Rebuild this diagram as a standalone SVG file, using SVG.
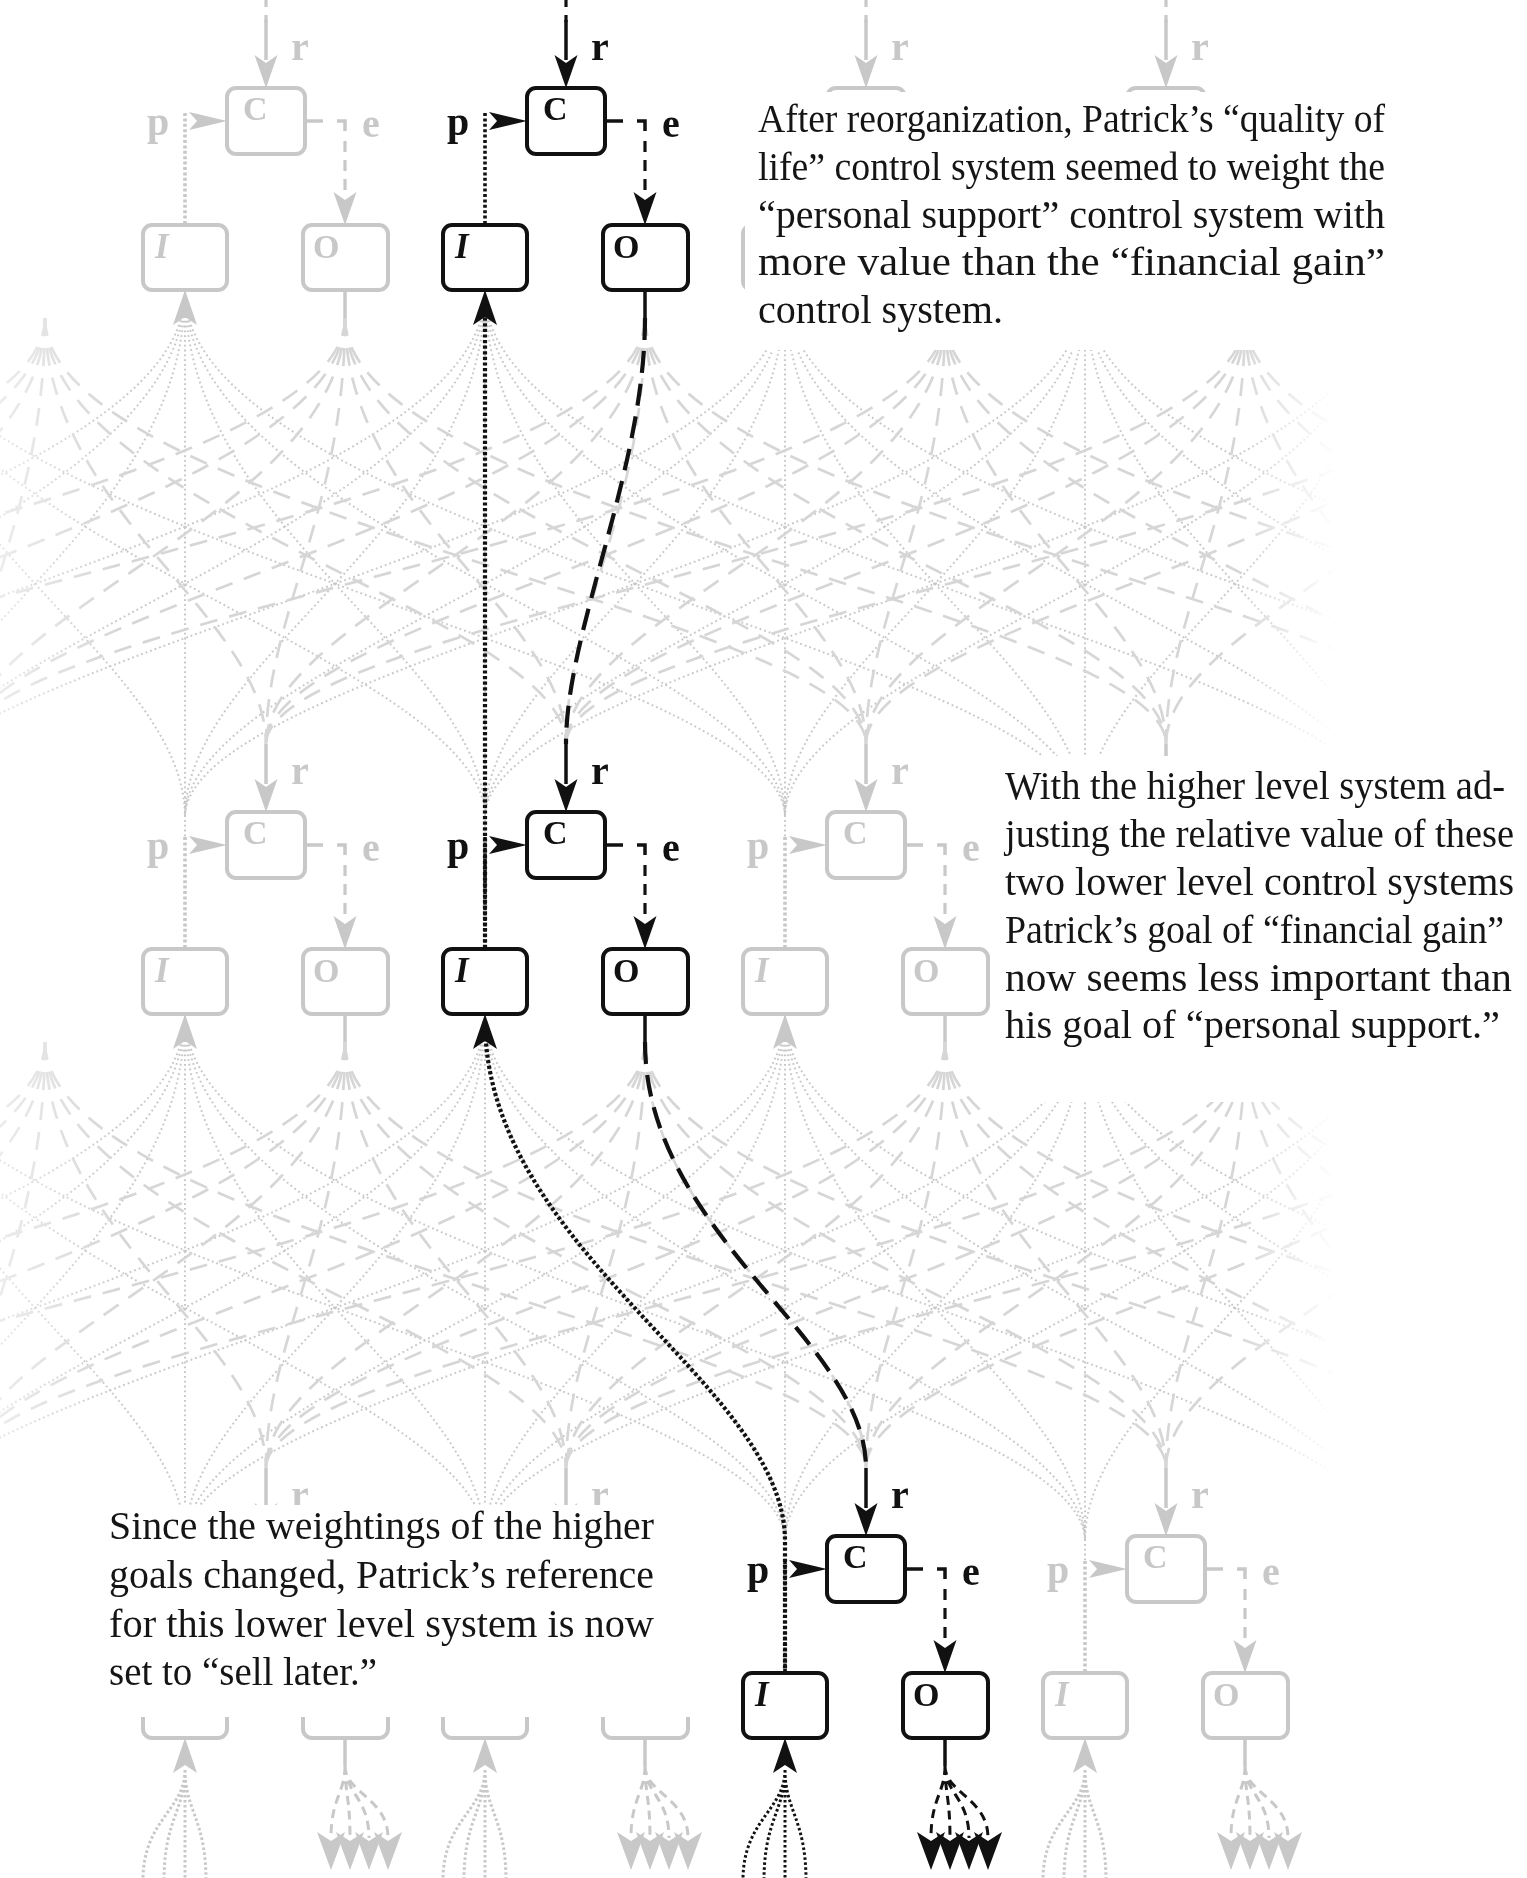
<svg xmlns="http://www.w3.org/2000/svg" width="1527" height="1878" viewBox="0 0 1527 1878">
<style>
.bx{fill:#fff;stroke:currentColor;stroke-width:4}
.sl{fill:none;stroke:currentColor;stroke-width:3.5}
.dt{fill:none;stroke:currentColor;stroke-width:3.6;stroke-dasharray:3 2.4}
.ed{fill:none;stroke:currentColor;stroke-width:3.2;stroke-dasharray:11 8}
.lb{font-family:"Liberation Serif",serif;font-weight:bold;font-size:40px}
.lc{font-family:"Liberation Serif",serif;font-weight:bold;font-size:34px}
.li{font-family:"Liberation Serif",serif;font-style:italic;font-weight:bold;font-size:35px}
.lo{font-family:"Liberation Serif",serif;font-weight:bold;font-size:34px}
.fa{color:#c8c8c8}
.bk{color:#111}
.fdot{fill:none;stroke:#c8c8c8;stroke-width:2;stroke-dasharray:1.8 3}
.fdash{fill:none;stroke:#d6d6d6;stroke-width:2.7;stroke-dasharray:18 12}
.kdot{fill:none;stroke:#111;stroke-width:4.2;stroke-dasharray:3.2 2.4}
.kdash{fill:none;stroke:#111;stroke-width:4.2;stroke-dasharray:22 11}
.bfd{fill:none;stroke:currentColor;stroke-width:3;stroke-dasharray:2.6 2.4}
.bfs{fill:none;stroke:currentColor;stroke-width:3;stroke-dasharray:9 6}
.tx{font-family:"Liberation Serif",serif;font-size:39px;fill:#151515}
</style>
<defs>
<path id="ad" d="M0 0 L-11.5 -33 L0 -25 L11.5 -33 Z"/>
<path id="au" d="M0 0 L-12 35 L0 27 L12 35 Z"/>
<path id="ar" d="M0 0 L-38 -9 L-30 0 L-38 9 Z"/>
<path id="adb" d="M0 0 L-14 -38 L0 -29 L14 -38 Z"/>
<linearGradient id="fg" gradientUnits="userSpaceOnUse" x1="0" y1="0" x2="1527" y2="0">
<stop offset="0" stop-color="#777"/>
<stop offset="0.08" stop-color="#fff"/>
<stop offset="0.81" stop-color="#fff"/>
<stop offset="0.875" stop-color="#000"/>
</linearGradient>
<mask id="fade" maskUnits="userSpaceOnUse" x="0" y="0" width="1527" height="1878">
<rect x="0" y="0" width="1527" height="1878" fill="url(#fg)"/>
</mask>
<g id="sys" fill="currentColor">
<rect class="bx" x="227" y="88" width="78" height="66" rx="9"/>
<rect class="bx" x="143" y="225" width="84" height="65" rx="9"/>
<rect class="bx" x="303" y="225" width="85" height="65" rx="9"/>
<text class="lc" x="243" y="120">C</text>
<text class="li" x="155" y="258">I</text>
<text class="lo" x="313" y="258">O</text>
<line class="sl" x1="266" y1="20" x2="266" y2="60"/>
<use href="#ad" x="266" y="88"/>
<text class="lb" x="291" y="60">r</text>
<text class="lb" x="147" y="135">p</text>
<line class="dt" x1="185" y1="113" x2="185" y2="225"/>
<use href="#ar" x="227" y="121"/>
<line class="sl" x1="305" y1="121" x2="323" y2="121"/>
<path class="sl" d="M337 121 H345 V131"/>
<line class="ed" x1="345" y1="141" x2="345" y2="195"/>
<use href="#ad" x="345" y="225"/>
<text class="lb" x="362" y="137">e</text>
<use href="#au" x="185" y="290"/>
<line class="sl" x1="345" y1="290" x2="345" y2="318"/>
</g>
<g id="pf" class="fdot">
<path d="M185 292 C185 528 -715 659 -715 817"/>
<path d="M185 292 C185 528 -415 659 -415 817"/>
<path d="M185 292 C185 528 -115 659 -115 817"/>
<path d="M185 292 V840"/>
<path d="M185 292 C185 528 485 659 485 817"/>
<path d="M185 292 C185 528 785 659 785 817"/>
<path d="M185 292 C185 528 1085 659 1085 817"/>
</g>
<g id="df" class="fdash">
<path d="M345 318 C345 510 -634 616 -634 744"/>
<path d="M345 318 C345 510 -334 616 -334 744"/>
<path d="M345 318 C345 510 -34 616 -34 744"/>
<path d="M345 318 C345 510 266 616 266 744"/>
<path d="M345 318 C345 510 566 616 566 744"/>
<path d="M345 318 C345 510 866 616 866 744"/>
<path d="M345 318 C345 510 1166 616 1166 744"/>
</g>
<g id="bf" fill="currentColor">
<path class="bfd" d="M185 322 C185 362 143 372 143 432 M185 322 C185 362 164 372 164 432 M185 322 V432 M185 322 C185 362 206 372 206 432"/>
<path class="bfs" d="M345 318 C345 345 331 350 331 390 M345 318 C345 345 350 350 350 390 M345 318 C345 345 369 350 369 390 M345 318 C345 345 388 350 388 390"/>
<use href="#adb" x="331" y="422"/>
<use href="#adb" x="350" y="422"/>
<use href="#adb" x="369" y="422"/>
<use href="#adb" x="388" y="422"/>
</g>
</defs>

<g id="connectors-faint">
<g mask="url(#fade)">
<use href="#pf" x="-300" y="0"/><use href="#pf" x="0" y="0"/><use href="#pf" x="300" y="0"/>
<use href="#pf" x="600" y="0"/><use href="#pf" x="900" y="0"/><use href="#pf" x="1200" y="0"/>
<use href="#pf" x="-300" y="724"/><use href="#pf" x="0" y="724"/><use href="#pf" x="300" y="724"/>
<use href="#pf" x="600" y="724"/><use href="#pf" x="900" y="724"/><use href="#pf" x="1200" y="724"/>
<use href="#df" x="-300" y="0"/><use href="#df" x="0" y="0"/><use href="#df" x="300" y="0"/>
<use href="#df" x="600" y="0"/><use href="#df" x="900" y="0"/><use href="#df" x="1200" y="0"/>
<use href="#df" x="-300" y="724"/><use href="#df" x="0" y="724"/><use href="#df" x="300" y="724"/>
<use href="#df" x="600" y="724"/><use href="#df" x="900" y="724"/><use href="#df" x="1200" y="724"/>
</g>
<g class="fa">
<use href="#bf" x="0" y="1448"/><use href="#bf" x="300" y="1448"/><use href="#bf" x="900" y="1448"/>
<line class="ed" x1="266" y1="-4" x2="266" y2="22"/>
<line class="ed" x1="866" y1="-4" x2="866" y2="22"/>
<line class="ed" x1="1166" y1="-4" x2="1166" y2="22"/>
</g>
</g>

<g id="nodes-faint" class="fa">
<g id="sys-top-0"><use href="#sys" x="0" y="0"/></g>
<g id="sys-top-2"><use href="#sys" x="600" y="0"/></g>
<g id="sys-top-3"><use href="#sys" x="900" y="0"/></g>
<g id="sys-mid-0"><use href="#sys" x="0" y="724"/></g>
<g id="sys-mid-2"><use href="#sys" x="600" y="724"/></g>
<g id="sys-mid-3"><use href="#sys" x="900" y="724"/></g>
<g id="sys-bot-0"><use href="#sys" x="0" y="1448"/></g>
<g id="sys-bot-1"><use href="#sys" x="300" y="1448"/></g>
<g id="sys-bot-3"><use href="#sys" x="900" y="1448"/></g>
</g>

<g id="text-backgrounds" fill="#fff">
<rect x="745" y="92" width="782" height="258"/>
<rect x="996" y="756" width="531" height="346"/>
<rect x="0" y="1505" width="697" height="212"/>
</g>

<g id="connectors" class="bk">
<line class="kdot" x1="485" y1="948" x2="485" y2="300"/>
<path class="kdash" d="M645 318 C645 470 566 630 566 744"/>
<path class="kdot" d="M785 1674 V1541 C785 1383 485 1252 485 1020"/>
<path class="kdash" d="M645 1042 C645 1234 866 1340 866 1468"/>
<line class="ed" x1="566" y1="-4" x2="566" y2="22"/>
<use href="#bf" x="600" y="1448"/>
</g>

<g id="nodes-black" class="bk">
<g id="sys-top-1"><use href="#sys" x="300" y="0"/></g>
<g id="sys-mid-1"><use href="#sys" x="300" y="724"/></g>
<g id="sys-bot-2"><use href="#sys" x="600" y="1448"/></g>
</g>

<g id="captions" class="tx">
<text x="758" y="132" textLength="627" lengthAdjust="spacingAndGlyphs">After reorganization, Patrick’s “quality of</text>
<text x="758" y="180" textLength="627" lengthAdjust="spacingAndGlyphs">life” control system seemed to weight the</text>
<text x="758" y="228" textLength="627" lengthAdjust="spacingAndGlyphs">“personal support” control system with</text>
<text x="758" y="275" textLength="627" lengthAdjust="spacingAndGlyphs">more value than the “financial gain”</text>
<text x="758" y="323" textLength="245" lengthAdjust="spacingAndGlyphs">control system.</text>

<text x="1005" y="799" textLength="500" lengthAdjust="spacingAndGlyphs">With the higher level system ad-</text>
<text x="1005" y="847" textLength="509" lengthAdjust="spacingAndGlyphs">justing the relative value of these</text>
<text x="1005" y="895" textLength="509" lengthAdjust="spacingAndGlyphs">two lower level control systems</text>
<text x="1005" y="943" textLength="499" lengthAdjust="spacingAndGlyphs">Patrick’s goal of “financial gain”</text>
<text x="1005" y="991" textLength="507" lengthAdjust="spacingAndGlyphs">now seems less important than</text>
<text x="1005" y="1038" textLength="495" lengthAdjust="spacingAndGlyphs">his goal of “personal support.”</text>

<text x="109" y="1539" textLength="545" lengthAdjust="spacingAndGlyphs">Since the weightings of the higher</text>
<text x="109" y="1588" textLength="545" lengthAdjust="spacingAndGlyphs">goals changed, Patrick’s reference</text>
<text x="109" y="1637" textLength="545" lengthAdjust="spacingAndGlyphs">for this lower level system is now</text>
<text x="109" y="1685" textLength="268" lengthAdjust="spacingAndGlyphs">set to “sell later.”</text>
</g>
</svg>
